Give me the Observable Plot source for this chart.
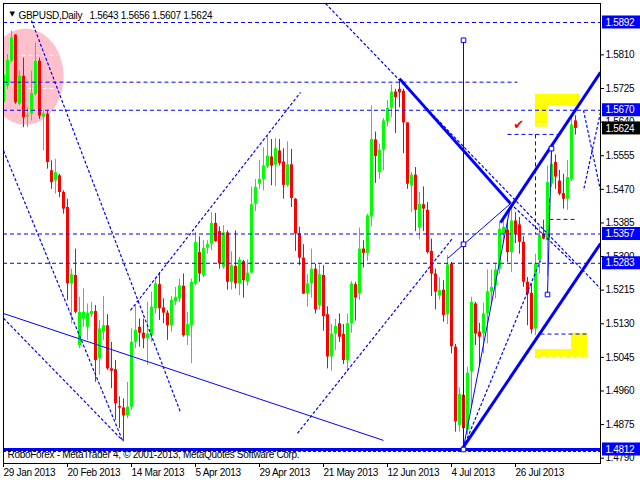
<!DOCTYPE html>
<html><head><meta charset="utf-8">
<script src="https://cdn.jsdelivr.net/npm/d3@7"></script>
<script src="https://cdn.jsdelivr.net/npm/@observablehq/plot@0.6"></script>
<style>body{margin:0;background:#fff} svg{display:block}</style>
</head><body><div id="chart"></div>
<script>
// ---- data: daily GBPUSD bars from 29 Jan 2013 (bar index 0) ----
const opens = [1.5689,1.5731,1.5794,1.5860,1.5685,1.5756,1.5653,1.5660,1.5710,1.5794,1.5653,1.5660,1.5517,1.5491,1.5504,1.5462,1.5424,1.5231,1.5252,1.5075,1.5142,1.5121,1.5153,1.5161,1.5041,1.5109,1.5125,1.5016,1.5014,1.4921,1.4917,1.4897,1.4919,1.5083,1.5121,1.5106,1.5092,1.5100,1.5168,1.5229,1.5170,1.5157,1.5125,1.5186,1.5193,1.5225,1.5100,1.5125,1.5231,1.5310,1.5252,1.5321,1.5331,1.5384,1.5363,1.5273,1.5360,1.5235,1.5275,1.5231,1.5287,1.5235,1.5258,1.5432,1.5483,1.5495,1.5527,1.5552,1.5531,1.5567,1.5539,1.5480,1.5532,1.5445,1.5357,1.5296,1.5205,1.5232,1.5268,1.5176,1.5252,1.5153,1.5046,1.5104,1.5130,1.5103,1.5036,1.5130,1.5229,1.5205,1.5319,1.5308,1.5400,1.5595,1.5512,1.5569,1.5641,1.5675,1.5716,1.5723,1.5718,1.5638,1.5479,1.5506,1.5372,1.5431,1.5417,1.5313,1.5256,1.5201,1.5215,1.5153,1.5281,1.5071,1.4873,1.4949,1.4862,1.5008,1.5180,1.5109,1.5104,1.5155,1.5210,1.5226,1.5268,1.5357,1.5367,1.5310,1.5390,1.5380,1.5336,1.5235,1.5207,1.5117,1.5290,1.5357,1.5340,1.5483,1.5538,1.5491,1.5459,1.5445,1.5495,1.5643];
const highs = [1.5777,1.5811,1.5870,1.5861,1.5769,1.5802,1.5676,1.5769,1.5840,1.5802,1.5668,1.5668,1.5542,1.5546,1.5508,1.5466,1.5445,1.5268,1.5319,1.5197,1.5218,1.5180,1.5184,1.5176,1.5138,1.5199,1.5153,1.5083,1.5037,1.4945,1.4940,1.4982,1.5117,1.5176,1.5142,1.5142,1.5184,1.5210,1.5247,1.5260,1.5193,1.5163,1.5199,1.5222,1.5243,1.5256,1.5159,1.5243,1.5361,1.5350,1.5340,1.5340,1.5411,1.5409,1.5375,1.5378,1.5365,1.5312,1.5365,1.5298,1.5290,1.5291,1.5476,1.5495,1.5543,1.5575,1.5605,1.5596,1.5599,1.5596,1.5573,1.5590,1.5571,1.5447,1.5374,1.5330,1.5254,1.5319,1.5281,1.5279,1.5277,1.5173,1.5128,1.5141,1.5155,1.5128,1.5155,1.5237,1.5235,1.5372,1.5340,1.5407,1.5681,1.5615,1.5584,1.5649,1.5695,1.5734,1.5723,1.5748,1.5723,1.5638,1.5512,1.5525,1.5462,1.5476,1.5437,1.5344,1.5268,1.5246,1.5239,1.5302,1.5285,1.5078,1.4968,1.4978,1.5020,1.5197,1.5184,1.5131,1.5182,1.5266,1.5266,1.5283,1.5386,1.5392,1.5392,1.5428,1.5411,1.5399,1.5350,1.5247,1.5231,1.5306,1.5375,1.5392,1.5529,1.5567,1.5557,1.5518,1.5508,1.5543,1.5649,1.5656];
const lows = [1.5685,1.5723,1.5790,1.5685,1.5681,1.5626,1.5626,1.5643,1.5706,1.5647,1.5567,1.5521,1.5470,1.5458,1.5449,1.5407,1.5189,1.5130,1.5155,1.5067,1.5121,1.5088,1.5146,1.4982,1.4999,1.5088,1.5012,1.4966,1.4886,1.4865,1.4831,1.4890,1.4911,1.5067,1.5071,1.5067,1.5025,1.5083,1.5155,1.5138,1.5130,1.5088,1.5109,1.5176,1.5184,1.5096,1.5075,1.5029,1.5226,1.5235,1.5247,1.5306,1.5315,1.5336,1.5268,1.5268,1.5215,1.5215,1.5218,1.5201,1.5195,1.5225,1.5256,1.5414,1.5470,1.5466,1.5523,1.5479,1.5476,1.5529,1.5445,1.5475,1.5424,1.5313,1.5277,1.5204,1.5172,1.5195,1.5155,1.5165,1.5111,1.5016,1.5010,1.5062,1.5083,1.5027,1.5008,1.5106,1.5137,1.5189,1.5271,1.5288,1.5375,1.5485,1.5495,1.5517,1.5628,1.5651,1.5611,1.5676,1.5560,1.5470,1.5411,1.5363,1.5342,1.5363,1.5306,1.5199,1.5165,1.5190,1.5134,1.5128,1.5054,1.4856,1.4856,1.4817,1.4848,1.4919,1.5075,1.5025,1.5054,1.5079,1.5180,1.5193,1.5256,1.5342,1.5285,1.5260,1.5333,1.5306,1.5222,1.5125,1.5104,1.5100,1.5256,1.5342,1.5249,1.5475,1.5470,1.5454,1.5420,1.5417,1.5490,1.5607];
const closes = [1.5760,1.5796,1.5853,1.5689,1.5756,1.5651,1.5657,1.5712,1.5794,1.5655,1.5660,1.5538,1.5487,1.5512,1.5462,1.5420,1.5231,1.5254,1.5159,1.5159,1.5159,1.5157,1.5161,1.5037,1.5117,1.5125,1.5016,1.5010,1.4928,1.4917,1.4897,1.4919,1.5083,1.5113,1.5106,1.5092,1.5104,1.5172,1.5231,1.5168,1.5157,1.5125,1.5189,1.5197,1.5226,1.5100,1.5128,1.5235,1.5336,1.5256,1.5321,1.5330,1.5384,1.5338,1.5281,1.5360,1.5235,1.5277,1.5231,1.5291,1.5239,1.5258,1.5431,1.5475,1.5495,1.5529,1.5554,1.5529,1.5573,1.5535,1.5480,1.5532,1.5447,1.5357,1.5296,1.5205,1.5231,1.5268,1.5165,1.5254,1.5148,1.5046,1.5104,1.5123,1.5096,1.5037,1.5130,1.5231,1.5195,1.5319,1.5308,1.5403,1.5596,1.5553,1.5569,1.5643,1.5675,1.5716,1.5702,1.5714,1.5638,1.5483,1.5506,1.5417,1.5432,1.5420,1.5310,1.5256,1.5210,1.5214,1.5151,1.5279,1.5072,1.4882,1.4951,1.4865,1.5005,1.5184,1.5104,1.5096,1.5155,1.5211,1.5222,1.5266,1.5369,1.5374,1.5310,1.5390,1.5357,1.5336,1.5235,1.5205,1.5115,1.5281,1.5353,1.5344,1.5487,1.5533,1.5501,1.5458,1.5445,1.5500,1.5633,1.5624];

const dateLabels = ["29 Jan 2013","20 Feb 2013","14 Mar 2013","5 Apr 2013","29 Apr 2013","21 May 2013","12 Jun 2013","4 Jul 2013","26 Jul 2013"];
const barsPerLabel = 16;
const priceTicks = [1.4790,1.4875,1.4960,1.5045,1.5130,1.5215,1.5300,1.5385,1.5470,1.5555,1.5640,1.5725,1.5810];

// horizontal levels
const fullLevels = [1.5892, 1.5670, 1.5357, 1.5283];
const baseLevel = 1.4812;
const markedLevels = [1.5892, 1.5670, 1.5357, 1.5283, 1.4812];
const lastClose = 1.5624;
const titleText = "GBPUSD,Daily\u00a0\u00a0 1.5643 1.5656 1.5607 1.5624";
const footerText = "RoboForex - MetaTrader 4, \u00a9 2001-2013, MetaQuotes Software Corp.";

// drawing objects: [bar1, price1, bar2, price2]
const thickLines = [[99,1.5750,126.75,1.5434],[124.25,1.5386,149.25,1.5766],[114.75,1.4815,149.25,1.5333]];
const thinLines = [[0,1.5156,95,1.4835],[111,1.5295,126.75,1.5434],[115,1.4817,126.75,1.5429],[137,1.5573,136,1.5204],[115,1.5847,115,1.4812]];
const dottedLines = [[7,1.5897,44.25,1.4906],[0,1.5568,29.75,1.4835],[0,1.5144,29.75,1.4835],[31.75,1.5164,74.25,1.5715],[73.5,1.4853,112.25,1.5346],[80.5,1.5940,149.25,1.5219],[126.75,1.5434,142.5,1.5283],[115,1.4817,134.25,1.5290],[145,1.5670,149.25,1.5467],[149.25,1.5665,145,1.5467]];
const dashedShort = [[0,1.5741,128.5,1.5741],[126,1.5609,140,1.5609],[136.5,1.5394,143.5,1.5394],[134.25,1.5104,146,1.5104],[133,1.5609,133,1.5357],[136.5,1.5447,136.5,1.5341]];
const whiteDashes = [[2.75,1.5809,13.5,1.5809],[2.75,1.5725,13.5,1.5725]];
const yellowWhiteDashes = [[133.5,1.5635,135.8,1.5635],[134.5,1.5046,145.5,1.5046]];
const anchorSquares = [[115,1.5847],[115,1.5331],[115,1.4812],[137,1.5573],[136,1.5204]];
const yellowBoxes = [[133,144,1.5682,1.5710],[133,136,1.5627,1.5710],[133,146,1.5042,1.5065],[142,146,1.5042,1.5106]];
const checkMark = [128.75, 1.5634];
const ellipse = {bar: 5.5, price: 1.5755, rBars: 9.5, rPrice: 0.01214};

// ---- build ----
const candles = opens.map((o, i) => ({i, open: o, high: highs[i], low: lows[i], close: closes[i]}));
const up = candles.filter(d => d.close >= d.open);
const down = candles.filter(d => d.close < d.open);
const seg = a => a.map(([x1, y1, x2, y2]) => ({x1, y1, x2, y2}));
const ellPts = d3.range(0, 361, 4).map(a => ({x: ellipse.bar + ellipse.rBars * Math.cos(a * Math.PI / 180), y: ellipse.price + ellipse.rPrice * Math.sin(a * Math.PI / 180)}));
const bodyTop = d => d.close === d.open ? d.close + 0.00008 : d.close;

const W = 640, H = 480, mL = 3, mR = 40, mT = 3, mB = 17;
const xMax = (W - mR - mL) / 4;          // 4px per bar
const yDom = [1.47766, 1.5940];
const pxPerPrice = (H - mT - mB) / (yDom[1] - yDom[0]);
const boxHalf = 6.5 / pxPerPrice;
const BLUE = "#0000ff", GREEN = "#00ff00", RED = "#ff0000";
const L = {x1: "x1", y1: "y1", x2: "x2", y2: "y2"};

const chart = Plot.plot({
  width: W, height: H,
  marginLeft: mL, marginRight: mR, marginTop: mT, marginBottom: mB,
  style: {fontFamily: "'Liberation Sans', Arial, sans-serif", fontSize: "10px", background: "#fff", color: "#000", overflow: "visible", letterSpacing: "-0.3px"},
  x: {domain: [0, xMax], ticks: dateLabels.map((_, k) => k * barsPerLabel), tickFormat: v => dateLabels[Math.round(v / barsPerLabel)], tickSize: 4, tickPadding: 1, label: null},
  y: {domain: yDom, axis: "right", ticks: priceTicks, tickFormat: d3.format(".4f"), tickSize: 3, tickPadding: 2, label: null},
  marks: [
    Plot.line(ellPts, {x: "x", y: "y", fill: "#ffc0cb", stroke: "none", clip: true}),
    Plot.link(seg(whiteDashes), {...L, stroke: "#fff", strokeDasharray: "4,3", clip: true}),
    Plot.rect(yellowBoxes.map(([x1, x2, y1, y2]) => ({x1, x2, y1, y2})), {...L, fill: "#ffff00"}),
    Plot.link(seg(yellowWhiteDashes), {...L, stroke: "#fff", strokeDasharray: "4,3"}),
    // wicks
    Plot.ruleX(up, {x: "i", y1: "low", y2: "high", stroke: GREEN, clip: true}),
    Plot.ruleX(down, {x: "i", y1: "low", y2: "high", stroke: RED, clip: true}),
    // bodies
    Plot.ruleX(up, {x: "i", y1: "open", y2: bodyTop, stroke: GREEN, strokeWidth: 3, clip: true}),
    Plot.ruleX(down, {x: "i", y1: "open", y2: "close", stroke: RED, strokeWidth: 3, clip: true}),
    // levels
    Plot.ruleY(fullLevels, {stroke: BLUE, strokeDasharray: "4,3"}),
    Plot.ruleY([baseLevel], {stroke: BLUE, strokeWidth: 3}),
    Plot.ruleY([baseLevel], {stroke: BLUE, strokeDasharray: "3,2", dy: 2}),
    Plot.link(seg(dashedShort), {...L, stroke: BLUE, strokeDasharray: "4,3", clip: true}),
    Plot.link(seg(dottedLines), {...L, stroke: BLUE, strokeDasharray: "3,2", strokeWidth: 1.2, clip: true}),
    Plot.link(seg(thinLines), {...L, stroke: BLUE, strokeWidth: 1, clip: true}),
    Plot.link(seg(thickLines), {...L, stroke: BLUE, strokeWidth: 3, clip: true}),
    Plot.dot(anchorSquares, {x: d => d[0], y: d => d[1], symbol: "square", r: 2.6, stroke: BLUE, fill: "#fff", strokeWidth: 1}),
    Plot.text([checkMark], {x: d => d[0], y: d => d[1], text: () => "\u2714", fill: RED, fontSize: 13, fontFamily: "DejaVu Sans"}),
    Plot.frame({stroke: "#000"}),
    // title and footer
    Plot.text(["\u25bc"], {frameAnchor: "top-left", dx: 6, dy: 8, fontSize: 7, textAnchor: "start", fontFamily: "DejaVu Sans"}),
    Plot.text([titleText], {frameAnchor: "top-left", dx: 15, dy: 8, textAnchor: "start"}),
    Plot.text([footerText], {frameAnchor: "bottom-left", dx: 4, dy: -6, textAnchor: "start"}),
    // price labels on the right
    Plot.rect(markedLevels, {x1: xMax + 0.5, x2: xMax + 10.5, y1: d => d - boxHalf, y2: d => d + boxHalf, fill: BLUE}),
    Plot.text(markedLevels, {x: xMax + 1.25, y: d => d, text: d => d.toFixed(4), fill: "#fff", textAnchor: "start"}),
    Plot.rect([lastClose], {x1: xMax + 0.5, x2: xMax + 10.5, y1: d => d - boxHalf, y2: d => d + boxHalf, fill: "#000"}),
    Plot.text([lastClose], {x: xMax + 1.25, y: d => d, text: d => d.toFixed(4), fill: "#fff", textAnchor: "start"})
  ]
});
chart.querySelectorAll('[aria-label="x-axis"] text, [aria-label="x-axis tick label"] text').forEach(t => t.setAttribute("text-anchor", "start"));
document.getElementById("chart").appendChild(chart);
</script>
</body></html>
